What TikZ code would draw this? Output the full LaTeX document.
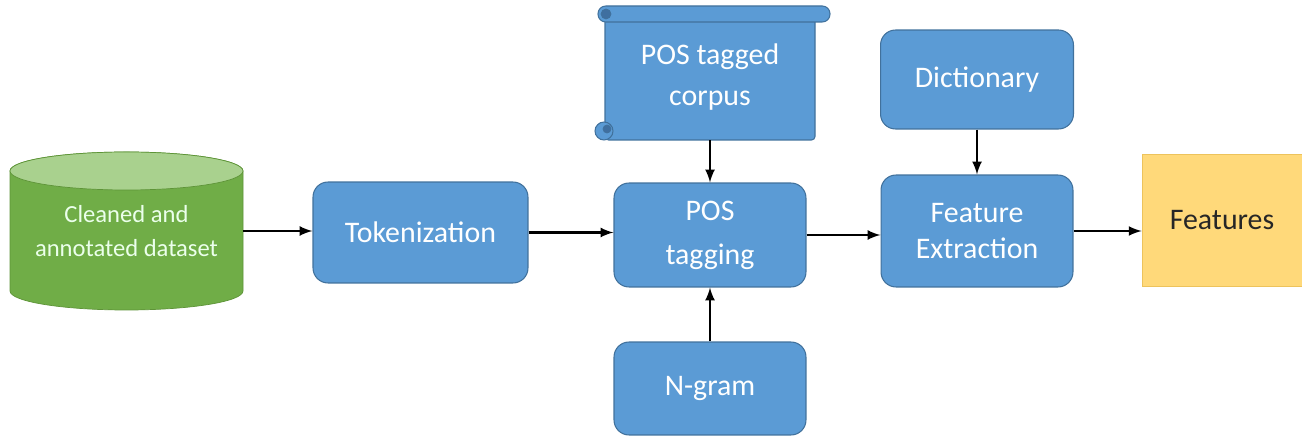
\documentclass[tikz,border=0pt]{standalone}
\usepackage{fontspec}
\setmainfont{Carlito}
\definecolor{boxblue}{HTML}{5B9BD5}
\definecolor{boxedge}{HTML}{41719C}
\definecolor{darkblue}{HTML}{3F6FA0}
\definecolor{cylgreen}{HTML}{70AD47}
\definecolor{cyltop}{HTML}{A9D18E}
\definecolor{cyledge}{HTML}{5E9438}
\definecolor{featfill}{HTML}{FFD97A}
\definecolor{featedge}{HTML}{EDC35C}
\tikzset{
  box/.style={draw=boxedge, fill=boxblue, rounded corners=0.3cm, text=white,
    align=center, font=\fontsize{17}{20}\selectfont, line width=0.6pt},
}
\begin{document}
\begin{tikzpicture}[x=0.02cm,y=0.02cm]
        \useasboundingbox (0,0) rectangle (1302,439);
        % dataset cylinder
        \draw[fill=cylgreen, draw=cyledge] (10,268) -- (10,148)
          arc[start angle=180, end angle=360, x radius=116.5, y radius=19]
          -- (243,268) arc[start angle=0, end angle=180, x radius=116.5, y radius=19] -- cycle;
        \draw[fill=cyltop, draw=cyledge] (126.5,268) ellipse [x radius=116.5, y radius=19];
        \node[minimum width=4.66cm, minimum height=3.16cm, align=center, text=white!92!green,
          font=\fontsize{14}{19}\selectfont] at (126.5,208) (data) {Cleaned and\\annotated dataset};
        % scroll for the corpus
        \draw[fill=boxblue, draw=boxedge, line width=0.6pt, rounded corners=2pt] (605,425) rectangle (815,299);
        \draw[fill=boxblue, draw=boxedge, line width=0.6pt, rounded corners=4.4pt] (598,433) rectangle (830,417);
        \draw[fill=darkblue, draw=boxedge] (606,425) circle (5);
        \draw[fill=boxblue, draw=boxedge, line width=0.6pt] (604,308) circle (9);
        \draw[fill=darkblue, draw=boxedge] (607,310) circle (4);
        \node[minimum width=4.2cm, minimum height=2.52cm, align=center, text=white,
          font=\fontsize{17}{20}\selectfont] at (710,362) (corpus) {POS tagged\\[3pt]corpus};
        % blocks
        \node[box, minimum width=4.3cm, minimum height=2.02cm] at (420.5,206.5) (tok) {Tokenization};
        \node[box, minimum width=3.84cm, minimum height=2.08cm] at (710,204) (pos) {POS\\[5pt]tagging};
        \node[box, minimum width=3.84cm, minimum height=1.86cm] at (710,50.5) (ngram) {N-gram};
        \node[box, minimum width=3.86cm, minimum height=1.98cm] at (977,359.5) (dict) {Dictionary};
        \node[box, minimum width=3.84cm, minimum height=2.24cm] at (977,208) (fext) {Feature\\Extraction};
        \node[draw=featedge, fill=featfill, minimum width=3.2cm, minimum height=2.64cm,
          font=\fontsize{17}{20}\selectfont, text=black!85] at (1222,219) (feat) {Features};
        % connectors
        \draw[-latex, line width=1.5pt] (data.east) -- (data.east -| tok.west);
        \draw[-latex, line width=1.5pt] (tok.east) -- (tok.east -| pos.west);
        \draw[-latex, line width=1.5pt] (pos.east) -- (pos.east -| fext.west);
        \draw[-latex, line width=1.5pt] (fext.east) -- (fext.east -| feat.west);
        \draw[-latex, line width=1.5pt] (corpus) -- (pos);
        \draw[-latex, line width=1.5pt] (ngram) -- (pos);
        \draw[-latex, line width=1.5pt] (dict) -- (fext);
      \end{tikzpicture}
\end{document}
